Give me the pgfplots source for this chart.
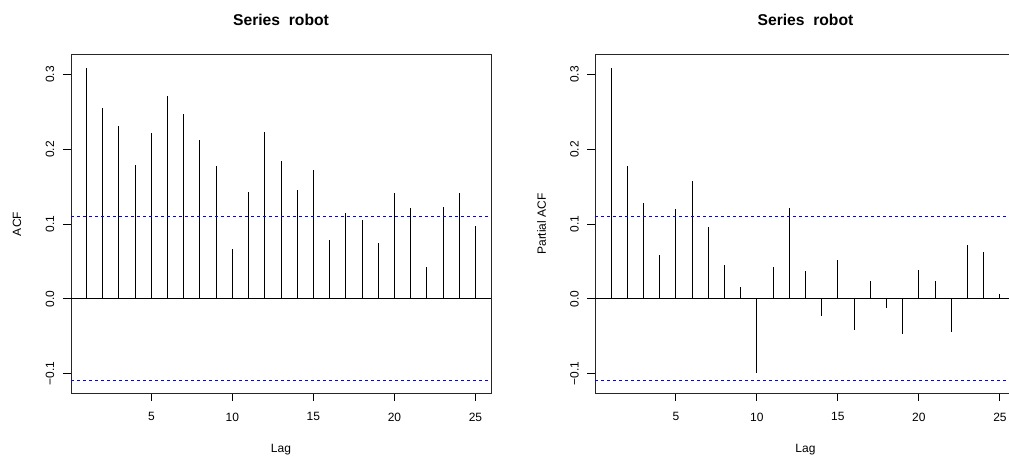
\documentclass[border=0pt]{standalone}
\usepackage{pgfplots}
\pgfplotsset{compat=1.18}
\usepackage{pgfplotstable}
\usepackage{fontspec}
\setmainfont{Liberation Sans}
\definecolor{rblue}{RGB}{0,0,255}
\pgfplotstableread{
lag acf pacf
1 0.309 0.309
2 0.256 0.178
3 0.231 0.128
4 0.179 0.058
5 0.222 0.120
6 0.271 0.158
7 0.247 0.096
8 0.212 0.045
9 0.178 0.016
10 0.066 -0.100
11 0.143 0.042
12 0.223 0.122
13 0.185 0.037
14 0.146 -0.023
15 0.172 0.052
16 0.078 -0.042
17 0.115 0.024
18 0.106 -0.013
19 0.075 -0.047
20 0.141 0.039
21 0.121 0.024
22 0.042 -0.044
23 0.123 0.072
24 0.141 0.063
25 0.097 0.006
}\robot
\pgfplotstableread{
x y
0.04 0.1101
25.96 0.1101
}\ciup
\pgfplotstableread{
x y
0.04 -0.1094
25.96 -0.1094
}\cilo
\pgfplotstableread{
x y
0.04 0
25.96 0
}\zeroline
\pgfplotsset{
  rplot/.style={
    scale only axis,
    width=315pt, height=253.5pt,
    xmin=0.04, xmax=25.96, ymin=-0.1262, ymax=0.3263,
    axis line style={line width=0.75pt, black!85},
    xtick={5,10,15,20,25},
    ytick={-0.1,0,0.1,0.2,0.3},
    yticklabels={−0.1,0.0,0.1,0.2,0.3},
    xticklabels={5,10,15,20,25},
    tick pos=left,
    tick align=outside,
    major tick length=6pt,
    tick style={line width=0.75pt, black},
    ticklabel style={font=\fontsize{9pt}{11pt}\selectfont},
    yticklabel style={rotate=90, anchor=south, yshift=3pt},
    xticklabel style={anchor=north, yshift=-5.25pt},
    label style={font=\fontsize{9pt}{11pt}\selectfont},
    xlabel={Lag},
    xlabel style={at={(axis description cs:0.5,0)}, anchor=center, yshift=-42.75pt},
    ylabel style={at={(axis description cs:0,0.5)}, anchor=center, yshift=40.5pt},
    title={Series\ \ robot},
    title style={font=\fontsize{11.75pt}{13pt}\selectfont\bfseries, at={(axis description cs:0.5,1)}, anchor=center, yshift=20.25pt},
    clip=true,
  },
  ci/.style={draw=rblue, line width=0.9pt, dash pattern=on 2.25pt off 2.25pt, no marks},
}
\begin{document}
\begin{tikzpicture}
\useasboundingbox (0,0) rectangle (756.75pt,343.5pt);
\clip (0,0) rectangle (756.75pt,343.5pt);
\begin{axis}[rplot, anchor=south west, at={(53.25pt,48.75pt)}, ylabel={ACF}]
\addplot[ycomb, draw=black, line width=0.75pt, no marks] table[x=lag, y=acf] {\robot};
\addplot[draw=black, line width=0.75pt, no marks] table {\zeroline};
\addplot[ci] table {\ciup};
\addplot[ci] table {\cilo};
\end{axis}
\begin{axis}[rplot, anchor=south west, at={(446.6pt,48.75pt)}, ylabel={Partial ACF}]
\addplot[ycomb, draw=black, line width=0.75pt, no marks] table[x=lag, y=pacf] {\robot};
\addplot[draw=black, line width=0.75pt, no marks] table {\zeroline};
\addplot[ci] table {\ciup};
\addplot[ci] table {\cilo};
\end{axis}
\end{tikzpicture}
\end{document}
